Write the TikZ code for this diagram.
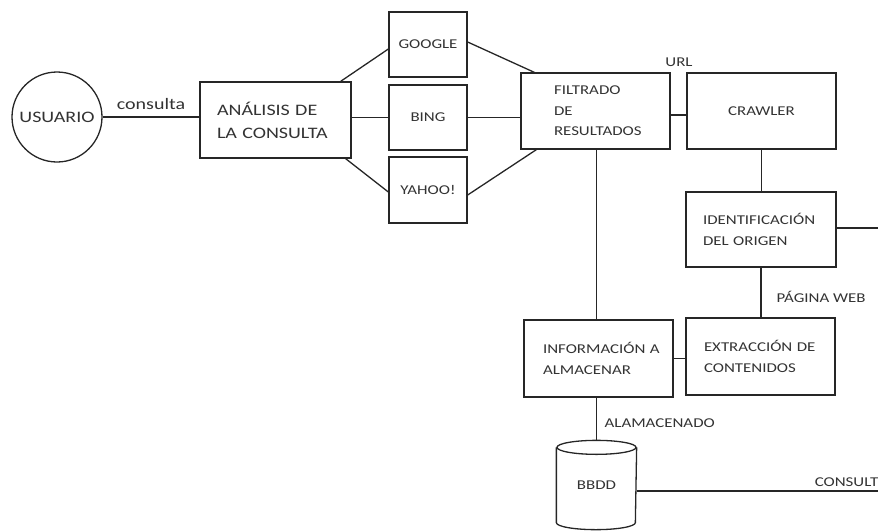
\documentclass[tikz,border=0pt]{standalone}
\usepackage{fontspec}
\setmainfont{Carlito}[FakeStretch=1.25]
\usetikzlibrary{shapes.geometric}
\begin{document}
\begin{tikzpicture}[x=1pt,y=-1pt,
  line width=1.3pt,
  color=black!85,
  smallf/.style={font=\fontsize{13.5}{20.5}\selectfont, text=black!80},
  bigf/.style={font=\fontsize{16}{23}\selectfont, text=black!80},
  box/.style={draw=black!85, inner sep=0pt, align=left},
  sbox/.style={draw=black!85, inner sep=0pt, align=center},
  lbl/.style={inner sep=0pt}]
\useasboundingbox (0,0) rectangle (878,531);

\node[draw=black!85, circle, minimum size=90pt, inner sep=0pt, bigf] (usuario) at (57,117) {USUARIO};
\node[box, bigf, text width=151pt, minimum height=76pt] (analisis) at (275.5,120)
  {\hspace*{17pt}ANÁLISIS DE\\\hspace*{17pt}LA CONSULTA};
\node[sbox, smallf, minimum width=78pt, minimum height=65pt] (google) at (428,44.5) {GOOGLE};
\node[sbox, smallf, minimum width=78pt, minimum height=65pt] (bing) at (428,117.5) {BING};
\node[sbox, smallf, minimum width=78pt, minimum height=66pt] (yahoo) at (428,190) {YAHOO!};
\node[box, smallf, text width=149pt, minimum height=76pt] (filtrado) at (595.5,111)
  {\hspace*{33pt}FILTRADO\\\hspace*{33pt}DE\\\hspace*{33pt}RESULTADOS};
\node[sbox, smallf, minimum width=149pt, minimum height=76pt] (crawler) at (761.5,111) {CRAWLER};
\node[box, smallf, text width=150pt, minimum height=75pt] (ident) at (761,229.5)
  {\hspace*{17pt}IDENTIFICACIÓN\\\hspace*{17pt}DEL ORIGEN};
\node[box, smallf, text width=149pt, minimum height=77pt] (extr) at (760.5,356.5)
  {\hspace*{18pt}EXTRACCIÓN DE\\\hspace*{18pt}CONTENIDOS};
\node[box, smallf, text width=149pt, minimum height=77pt] (info) at (598.5,358.5)
  {\hspace*{19pt}INFORMACIÓN A\\\hspace*{19pt}ALMACENAR};
\node[inner sep=0pt, minimum width=79pt, minimum height=88pt, smallf] (bbdd) at (596.5,485)
  {\raisebox{-6pt}{BBDD}};
\draw ([yshift=-7pt]bbdd.north) ellipse [x radius=39.5pt, y radius=7pt];
\draw ([yshift=-7pt]bbdd.north west) -- ([yshift=7pt]bbdd.south west)
  arc[start angle=180, end angle=360, x radius=39.5pt, y radius=7pt]
  -- ([yshift=-7pt]bbdd.north east);

% labels
\node[bigf, lbl] (lconsulta) at (151,104) {consulta};
\node[smallf, lbl] (lurl) at (679,62) {URL};
\node[smallf, lbl, anchor=west] (lweb) at (776,297) {PÁGINA WEB};
\node[smallf, lbl, anchor=west] (lalm) at (604,423) {ALAMACENADO};
\node[smallf, lbl, anchor=east] (lcons) at (879,482) {CONSULT};

% connectors
\coordinate (e1) at (878,228);
\coordinate (e2) at (878,491);
\draw (usuario.east) -- (usuario.east -| analisis.west);
\draw ([xshift=-11pt]analisis.north east) -- ([yshift=-4.5pt]google.west);
\draw ([yshift=2.5pt]google.east) -- ([xshift=14pt]filtrado.north west);
\draw (bing.west -| analisis.east) -- (bing.west);
\draw (bing.east) -- (bing.east -| filtrado.west);
\draw ([xshift=-6pt]analisis.south east) -- ([yshift=-2pt]yahoo.west);
\draw ([yshift=-5pt]yahoo.east) -- ([xshift=16pt]filtrado.south west);
\draw ([yshift=-4pt]filtrado.east) -- ([yshift=-4pt]crawler.west);
\draw (bbdd.north |- filtrado.south) -- (bbdd.north |- info.north);
\draw (crawler.south) -- (crawler.south |- ident.north);
\draw (ident.east |- e1) -- (e1);
\draw (ident.south) -- (ident.south |- extr.north);
\draw (info.east) -- (info.east -| extr.west);
\draw (bbdd.north |- info.south) -- (bbdd.north);
\draw ([yshift=-6pt]bbdd.east) -- (e2);
\end{tikzpicture}
\end{document}
